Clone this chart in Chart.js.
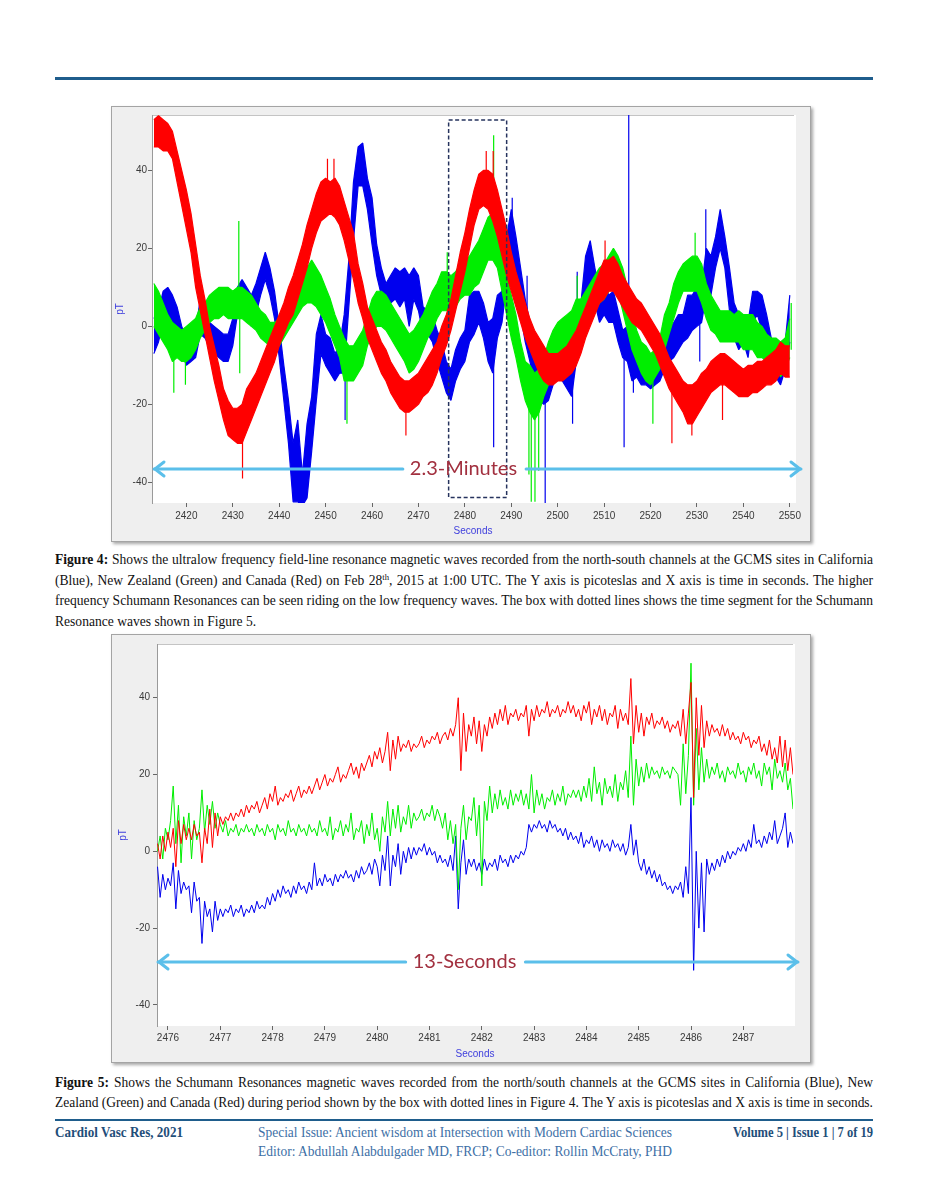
<!DOCTYPE html>
<html>
<head>
<meta charset="utf-8">
<script src="https://cdn.jsdelivr.net/npm/chart.js@4.4.0/dist/chart.umd.min.js"></script>
<style>
    body {
        margin: 0;
        width: 927px;
        height: 1200px;
        position: relative;
        overflow: hidden;
        background: #fff;
        font-family: "Liberation Serif", "Times New Roman", serif;
    }

    .rule {
        position: absolute;
        left: 55px;
        width: 818px;
        background: #1f5d8c;
    }

    .frame {
        position: absolute;
        left: 111px;
        width: 698px;
        background: #efefef;
        border: 1px solid #a4a4a4;
        box-shadow: 2px 2px 3px rgba(0, 0, 0, 0.35);
    }

    .frame canvas {
        position: absolute;
        left: 0;
        top: 0;
    }

    .cap {
        position: absolute;
        left: 55px;
        width: 818px;
        font-size: 14px;
        color: #111;
    }

    .cap .row {
        white-space: nowrap;
    }

    .ln {
        display: inline-block;
        white-space: nowrap;
        transform-origin: 0 50%;
    }

    .cap sup {
        font-size: 9px;
        line-height: 0;
        vertical-align: 5px;
    }

    .foot {
        position: absolute;
        font-size: 14px;
        line-height: 18px;
        white-space: nowrap;
        display: inline-block;
        transform-origin: 0 50%;
    }

    .foot.b {
        font-weight: bold;
        color: #1f4e79;
    }

    .foot.m {
        color: #3d6fa6;
    }
</style>
</head>
<body>

<div class="rule" style="top:77px;height:3px"></div>

<div class="frame" style="top:106px;height:434px">
    <canvas id="fig4" width="698" height="434"></canvas>
</div>

<div class="cap" style="top:552px">
    <div class="row" style="height:20.7px"><span class="ln j"><b>Figure 4:</b> Shows the ultralow frequency field-line resonance magnetic waves recorded from the north-south channels at the GCMS sites in California</span></div>
    <div class="row" style="height:20.7px"><span class="ln j">(Blue), New Zealand (Green) and Canada (Red) on Feb 28<sup>th</sup>, 2015 at 1:00 UTC. The Y axis is picoteslas and X axis is time in seconds. The higher</span></div>
    <div class="row" style="height:20.7px"><span class="ln j">frequency Schumann Resonances can be seen riding on the low frequency waves. The box with dotted lines shows the time segment for the Schumann</span></div>
    <div class="row" style="height:20.7px"><span class="ln">Resonance waves shown in Figure 5.</span></div>
</div>

<div class="frame" style="top:634px;height:427px">
    <canvas id="fig5" width="698" height="427"></canvas>
</div>

<div class="cap" style="top:1075px">
    <div class="row" style="height:19.5px"><span class="ln j"><b>Figure 5:</b> Shows the Schumann Resonances magnetic waves recorded from the north/south channels at the GCMS sites in California (Blue), New</span></div>
    <div class="row" style="height:19.5px"><span class="ln j">Zealand (Green) and Canada (Red) during period shown by the box with dotted lines in Figure 4. The Y axis is picoteslas and X axis is time in seconds.</span></div>
</div>

<div class="rule" style="top:1119px;height:2px"></div>

<div class="foot b" style="left:55px;top:1124px" data-w="128">Cardiol Vasc Res, 2021</div>
<div class="foot m" style="left:258px;top:1124px" data-w="414">Special Issue: Ancient wisdom at Intersection with Modern Cardiac Sciences</div>
<div class="foot m" style="left:258px;top:1143px" data-w="414">Editor: Abdullah Alabdulgader MD, FRCP; Co-editor: Rollin McCraty, PHD</div>
<div class="foot b" style="left:733px;top:1124px" data-w="140">Volume 5 | Issue 1 | 7 of 19</div>

<script>
// ================= figure 4 : noise band per second (low / high edge) + single spikes
const f4Start = 2413;

const f4RedLo = [
    46, 46, 45, 45, 43, 37, 31, 25, 19, 10,
    4, -2, -8, -14, -19, -24, -28, -29, -30, -30,
    -27, -24, -21, -18, -15, -12, -9, -5, -2, 1,
    3, 7, 11, 15, 20, 24, 27, 28, 29, 28,
    26, 22, 17, 12, 6, 2, -3, -6, -9, -12,
    -14, -17, -19, -21, -22, -22, -21, -20, -18, -17,
    -15, -12, -8, -5, -1, 4, 9, 14, 20, 26,
    30, 31, 30, 27, 23, 18, 13, 9, 5, 1,
    -3, -6, -9, -12, -14, -15, -15, -14, -14, -13,
    -12, -10, -7, -3, 0, 3, 6, 7, 9, 9,
    7, 5, 3, 1, 0, -1, -3, -5, -7, -10,
    -13, -16, -18, -20, -22, -25, -25, -23, -21, -19,
    -17, -16, -15, -15, -16, -17, -18, -18, -18, -17,
    -17, -16, -15, -15, -14, -12, -13, -13
];
const f4RedHi = [
    53, 54, 53, 52, 50, 45, 40, 35, 29, 21,
    13, 7, 0, -5, -10, -16, -19, -21, -21, -20,
    -16, -14, -12, -9, -6, -3, 0, 3, 6, 10,
    13, 17, 21, 26, 30, 34, 37, 38, 37, 38,
    36, 32, 28, 24, 16, 11, 5, 2, -1, -4,
    -6, -9, -11, -13, -14, -14, -13, -12, -10, -8,
    -6, -4, 0, 3, 7, 13, 19, 24, 30, 35,
    39, 40, 40, 39, 35, 30, 25, 19, 14, 10,
    6, 2, -1, -3, -5, -7, -7, -7, -6, -5,
    -3, -1, 2, 5, 8, 11, 14, 17, 17, 18,
    16, 13, 11, 9, 7, 6, 4, 2, 0, -2,
    -5, -8, -10, -12, -14, -15, -15, -14, -12, -11,
    -9, -8, -7, -7, -8, -9, -10, -11, -10, -10,
    -9, -9, -8, -7, -6, -4, -5, -5
];
// [seconds, from, to]
const f4RedSpikes = [
    [2432.1, -28, -39], [2450.4, 36, 43], [2451.8, 36, 43], [2467.3, -20, -28],
    [2484.6, 38, 45], [2486.1, 36, 45], [2510.2, 15, 22], [2524.6, -14, -30],
    [2528.9, -22, -28], [2535.5, -14, -24]
];

const f4GreenLo = [
    0, -2, -4, -6, -9, -8, -9, -9, -8, -6,
    -3, -1, 1, 2, 2, 3, 2, 2, 2, 2,
    1, 0, -1, -3, -4, -5, -6, -5, -3, -1,
    1, 3, 5, 6, 6, 5, 3, 1, -2, -5,
    -8, -14, -14, -14, -12, -10, -5, -2, 0, 0,
    -1, -3, -5, -7, -9, -12, -11, -9, -6, -3,
    -1, 2, 4, 4, 4, 5, 7, 8, 8, 10,
    11, 14, 17, 17, 15, 9, 3, -3, -8, -14,
    -19, -22, -24, -22, -18, -15, -11, -8, -7, -6,
    -4, -3, -1, 1, 3, 4, 6, 7, 9, 11,
    9, 4, -1, -6, -9, -12, -14, -15, -13, -11,
    -6, -2, 2, 6, 9, 9, 9, 9, 6, 2,
    -1, -2, -4, -4, -4, -4, -4, -6, -6, -6,
    -8, -8, -9, -10, -10, -13, -11, -8
];
const f4GreenHi = [
    11, 9, 6, 3, 1, 0, -1, 0, 1, 2,
    5, 6, 8, 9, 10, 10, 10, 9, 10, 10,
    9, 8, 6, 4, 3, 1, 1, 2, 4, 6,
    8, 11, 13, 15, 17, 15, 13, 10, 7, 3,
    0, -3, -5, -5, -3, -1, 3, 7, 9, 9,
    8, 6, 4, 2, 0, -2, -1, 1, 3, 6,
    9, 11, 14, 14, 13, 14, 16, 17, 18, 20,
    22, 25, 28, 29, 25, 19, 13, 8, 3, -4,
    -9, -10, -12, -11, -8, -4, -1, 1, 2, 3,
    4, 7, 7, 9, 11, 13, 15, 16, 18, 20,
    18, 15, 10, 4, -1, -4, -5, -7, -6, -3,
    3, 6, 11, 14, 16, 17, 18, 18, 16, 11,
    8, 6, 4, 4, 4, 3, 4, 3, 3, 3,
    1, 0, -2, -3, -3, -4, -3, 2
];
const f4GreenSpikes = [
    [2417.3, -8, -17], [2419.8, -7, -15], [2431.3, 6, 27], [2431.5, 2, -12],
    [2454.6, -12, -25], [2476.2, 12, 19], [2486.2, 25, 49], [2493.8, -18, -38],
    [2494.3, -18, -45], [2495.1, -18, -45], [2495.9, -18, -37], [2504.2, 4, 13],
    [2520.5, -13, -25], [2529.6, 15, 24], [2550.3, -6, 6]
];

const f4BlueLo = [
    -7, -4, 1, 3, 1, -2, -7, -10, -9, -8,
    -2, -3, -5, -7, -8, -9, -9, -5, 3, 5,
    3, 0, 3, 8, 12, 8, 2, -8, -19, -30,
    -45, -45, -46, -44, -32, -19, -7, -10, -12, -14,
    -12, -12, 5, 22, 36, 36, 30, 21, 13, 8,
    4, 6, 7, 5, 7, 0, 7, 4, -2, -2,
    -4, -9, -13, -17, -19, -14, -11, -9, -4, -2,
    1, -3, -9, -12, -3, 1, 11, 19, 11, 3,
    -4, -9, -14, -19, -20, -19, -15, -13, -14, -16,
    -18, -9, -3, 8, 11, 6, 1, 3, 1, 1,
    -4, -8, -9, -14, -13, -15, -15, -16, -15, -14,
    -11, -9, -8, -6, -4, -3, -1, 0, 1, 8,
    8, 15, 20, 15, 4, -3, -6, -4, -8, 1,
    3, -1, -6, -11, -13, -15, -11, -4
];
const f4BlueHi = [
    2, 4, 9, 10, 8, 5, 0, -3, -2, -1,
    7, 4, 1, 0, -1, -2, -2, 2, 10, 12,
    10, 8, 11, 15, 19, 15, 9, 0, -10, -19,
    -30, -24, -38, -25, -18, -2, 3, -2, -3, -7,
    -5, 3, 17, 37, 46, 47, 38, 33, 21, 15,
    11, 13, 15, 14, 15, 13, 15, 13, 5, 4,
    3, -1, -4, -9, -11, -6, -3, -1, 8, 9,
    9, 6, 1, 2, 8, 9, 23, 30, 23, 15,
    7, 1, -4, -9, -12, -11, -7, -6, -6, -6,
    -8, 0, 6, 18, 22, 15, 9, 11, 8, 9,
    4, -1, 0, -4, -6, -8, -8, -9, -9, -8,
    -4, -1, 1, 3, 3, 8, 8, 10, 10, 20,
    18, 23, 30, 23, 15, 6, 3, 3, 1, 9,
    9, 8, 3, -3, -4, -6, -4, 8
];
const f4BlueSpikes = [
    [2454.2, -6, -24], [2486.2, -6, -31], [2490.2, 25, 33], [2493.4, 0, 13],
    [2497.3, -14, -46], [2503.2, -12, -25], [2504.2, -3, 14], [2514.3, -5, -31],
    [2515.3, -3, 55], [2516.3, -8, -17], [2530.6, 2, -9], [2531.9, 12, 30]
];

const f4XTicks = [2420, 2430, 2440, 2450, 2460, 2470, 2480, 2490, 2500, 2510, 2520, 2530, 2540, 2550];
const f4YTicks = [-40, -20, 0, 20, 40];

// segment used for figure 5 and the span arrow
const f4Box = { x0: 2476.5, x1: 2489.0, y0: -43.9, y1: 52.9 };
const f4Span = { y: -36.7, at: 2479.7, text: '2.3-Minutes' };

// ================= figure 5 : one value every 0.05 s from 2475.80
const f5Start = 2475.8;
const f5Step = 0.05;

const f5Red = [
    2, -2, 4, 0, 5, 1, 6, -4, 8, 2, 7, 3, 6, 3, 7, 4, 5, -3, 6, 2,
    11, 1, 10, 4, 9, 7, 9, 8, 10, 8, 10, 9, 11, 9, 12, 10, 12, 11, 13, 10,
    12, 14, 11, 15, 13, 17, 12, 14, 13, 15, 14, 16, 13, 15, 17, 14, 16, 15, 17, 15,
    17, 19, 16, 18, 20, 17, 19, 18, 20, 22, 18, 20, 19, 21, 23, 20, 22, 19, 23, 21,
    23, 25, 22, 26, 24, 27, 23, 26, 31, 21, 29, 24, 30, 26, 28, 27, 29, 26, 28, 27,
    28, 30, 27, 29, 28, 30, 29, 31, 28, 30, 31, 29, 32, 30, 33, 40, 21, 36, 26, 33,
    30, 35, 28, 34, 26, 33, 30, 35, 32, 36, 33, 37, 34, 38, 33, 36, 35, 37, 34, 36,
    35, 38, 30, 37, 34, 38, 35, 37, 36, 39, 35, 37, 36, 38, 35, 37, 36, 39, 36, 38,
    35, 37, 34, 38, 36, 39, 33, 37, 35, 38, 34, 37, 33, 36, 35, 38, 32, 37, 34, 36,
    33, 45, 28, 38, 31, 36, 30, 35, 33, 36, 32, 34, 33, 35, 32, 34, 31, 33, 32, 34,
    30, 37, 28, 36, 44, 14, 40, 25, 38, 27, 34, 30, 33, 31, 32, 30, 33, 30, 32, 29,
    31, 29, 30, 28, 31, 29, 30, 27, 29, 28, 30, 26, 28, 25, 29, 24, 27, 23, 30, 22,
    29, 21, 27, 20
];

const f5Green = [
    0, 4, -2, 6, 3, 8, 17, 2, 12, -3, 9, 4, 10, -2, 8, 3, 6, 16, 5, 12,
    7, 13, 6, 10, 7, 5, 8, 4, 6, 5, 7, 4, 6, 5, 7, 5, 6, 4, 7, 5,
    6, 4, 7, 5, 6, 3, 7, 5, 6, 4, 8, 5, 6, 4, 7, 5, 6, 4, 7, 5,
    6, 4, 8, 5, 6, 4, 9, 3, 6, 5, 8, 4, 7, 5, 10, 3, 6, 5, 8, 2,
    7, 4, 10, 3, 6, 0, 9, 5, 13, 4, 11, 6, 12, 5, 9, 7, 12, 6, 10, 8,
    9, 11, 8, 10, 9, 12, 8, 11, 9, 6, 10, 3, 8, 2, 7, -10, 6, 12, 3, 9,
    8, 14, 4, 12, -9, 13, 8, 17, 10, 15, 11, 16, 12, 14, 11, 16, 12, 15, 13, 16,
    12, 15, 11, 20, 10, 16, 12, 15, 11, 14, 13, 16, 12, 15, 13, 17, 12, 15, 14, 16,
    14, 16, 13, 17, 14, 19, 13, 22, 15, 18, 12, 19, 15, 17, 14, 20, 13, 18, 16, 21,
    14, 30, 12, 24, 17, 22, 18, 23, 19, 22, 20, 21, 19, 22, 20, 21, 19, 22, 21, 20,
    12, 28, 15, 25, 49, 12, 32, 16, 27, 18, 24, 19, 22, 20, 23, 19, 21, 18, 22, 20,
    21, 19, 23, 20, 21, 18, 22, 20, 23, 19, 21, 17, 23, 20, 22, 16, 24, 19, 21, 18,
    23, 16, 19, 11
];

const f5Blue = [
    -4, -12, -6, -10, -7, -9, -3, -15, -5, -11, -8, -10, -9, -16, -8, -13, -12, -24, -13, -17,
    -15, -21, -13, -18, -15, -17, -15, -16, -14, -17, -15, -16, -14, -17, -15, -16, -14, -16, -13, -15,
    -14, -15, -12, -14, -11, -13, -10, -12, -9, -11, -10, -12, -9, -11, -8, -10, -9, -11, -8, -10,
    -3, -9, -7, -9, -6, -8, -7, -9, -6, -8, -6, -7, -5, -7, -6, -8, -5, -7, -4, -6,
    -5, -3, -6, -2, -4, -9, -1, -5, 4, -9, -1, -4, 2, -6, 0, -3, 1, -2, 1, -1,
    1, 0, 2, -1, 1, -1, 0, -3, -1, -3, -2, -4, -1, -5, 4, -15, -3, 3, -6, -2,
    -4, -2, -5, -3, -6, -2, -5, -3, -4, -2, -5, -1, -3, -2, -4, -1, -3, -1, -2, 0,
    -1, 1, 7, 5, 7, 6, 8, 6, 7, 5, 8, 6, 7, 5, 6, 4, 6, 3, 5, 3,
    4, 2, 5, 1, 3, 2, 4, 1, 3, 0, 3, 1, 2, 0, 3, 1, 2, 0, 2, -1,
    1, 7, -1, 3, -3, -5, -2, -6, -4, -7, -5, -8, -6, -9, -8, -10, -9, -11, -9, -10,
    -8, -12, -4, -11, 14, -31, 0, -20, -3, -21, -2, -6, -3, -5, -2, -4, -1, -3, 0, -2,
    0, -1, 1, 0, 2, 0, 3, 1, 7, 2, 3, 1, 4, 2, 5, 3, 8, 2, 4, 6,
    10, 1, 5, 2
];

const f5XTicks = [2476, 2477, 2478, 2479, 2480, 2481, 2482, 2483, 2484, 2485, 2486, 2487];
const f5YTicks = [-40, -20, 0, 20, 40];

const f5Span = { y: -28.9, at: 2481.67, text: '13-Seconds' };

// warna seri
const RED = '#ff0000';
const GREEN = '#00ee00';
const BLUE = '#0000ee';


function series(data, color, width) {
    return {
        data: data,
        borderColor: color,
        borderWidth: width,
        pointRadius: 0,
        fill: false,
        tension: 0,
        spanGaps: false,
        borderJoinStyle: 'bevel'
    };
}

// band (low edge, high edge filled between) and the spikes of one station
function bandSets(start, lo, hi, spikes, color) {

    const loPts = lo.map((v, i) => ({ x: start + i, y: v }));
    const hiPts = hi.map((v, i) => ({ x: start + i, y: v }));

    const spikePts = [];
    spikes.forEach(s => {
        spikePts.push({ x: s[0], y: s[1] }, { x: s[0], y: s[2] }, { x: s[0], y: null });
    });

    const hiSet = series(hiPts, color, 1.2);
    hiSet.fill = '-1';
    hiSet.backgroundColor = color;

    return [series(loPts, color, 1.2), hiSet, series(spikePts, color, 1.2)];
}

function samplePoints(start, step, values) {
    return values.map((v, i) => ({ x: start + i * step, y: v }));
}


function drawArrow(ctx, x1, x2, y, gapL, gapR) {

    ctx.save();
    ctx.strokeStyle = '#5bbfea';
    ctx.lineWidth = 3;
    ctx.lineCap = 'round';
    ctx.lineJoin = 'round';

    ctx.beginPath();
    ctx.moveTo(x1, y);
    ctx.lineTo(gapL, y);
    ctx.moveTo(gapR, y);
    ctx.lineTo(x2, y);
    ctx.stroke();

    ctx.beginPath();
    ctx.moveTo(x1 + 10, y - 7);
    ctx.lineTo(x1 + 1, y);
    ctx.lineTo(x1 + 10, y + 7);
    ctx.moveTo(x2 - 10, y - 7);
    ctx.lineTo(x2 - 1, y);
    ctx.lineTo(x2 - 10, y + 7);
    ctx.stroke();
    ctx.restore();
}


const overlay = {

    id: 'overlay',

    beforeDraw(chart) {
        const { ctx, chartArea: a } = chart;
        ctx.save();
        ctx.fillStyle = '#ffffff';
        ctx.fillRect(a.left, a.top, a.right - a.left + 2, a.bottom - a.top);
        ctx.strokeStyle = '#c4c4c4';
        ctx.lineWidth = 1;
        ctx.beginPath();
        ctx.moveTo(a.left, a.top + 0.5);
        ctx.lineTo(a.right, a.top + 0.5);
        ctx.stroke();
        ctx.restore();
    },

    afterDatasetsDraw(chart, args, opts) {

        const { ctx, chartArea: a } = chart;
        const sx = chart.scales.x;
        const sy = chart.scales.y;

        // dotted box
        if (opts.box) {
            const b = opts.box;
            const x0 = sx.getPixelForValue(b.x0);
            const x1 = sx.getPixelForValue(b.x1);
            const y0 = sy.getPixelForValue(b.y1);
            const y1 = sy.getPixelForValue(b.y0);
            ctx.save();
            ctx.strokeStyle = '#26335e';
            ctx.lineWidth = 1.5;
            ctx.setLineDash([4, 2.5]);
            ctx.strokeRect(x0, y0, x1 - x0, y1 - y0);
            ctx.restore();
        }

        // span arrow + label
        const s = opts.span;
        const ay = Math.round(sy.getPixelForValue(s.y));
        const cx = sx.getPixelForValue(s.at);

        ctx.save();
        ctx.font = opts.spanFont;
        const tw = ctx.measureText(s.text).width;
        ctx.restore();

        drawArrow(ctx, a.left + opts.arrowL, a.right + opts.arrowR, ay, cx - tw / 2 - 7, cx + tw / 2 + 9);

        ctx.save();
        ctx.font = opts.spanFont;
        ctx.fillStyle = '#a2303f';
        ctx.textAlign = 'center';
        ctx.textBaseline = 'middle';
        ctx.fillText(s.text, cx, ay);
        ctx.restore();

        // axis titles
        ctx.save();
        ctx.font = '10px "Liberation Sans", Arial, sans-serif';
        ctx.fillStyle = '#4040dd';
        ctx.textAlign = 'center';
        ctx.textBaseline = 'middle';
        ctx.fillText('Seconds', (a.left + a.right) / 2, opts.secondsY);
        ctx.translate(opts.pTX, (a.top + a.bottom) / 2);
        ctx.rotate(-Math.PI / 2);
        ctx.fillText('pT', 0, 0);
        ctx.restore();
    }
};


function buildChart(id, cfg) {

    const tickFont = { family: '"Liberation Sans", Arial, sans-serif', size: 10 };

    return new Chart(document.getElementById(id), {

        type: 'line',

        data: { datasets: cfg.datasets },

        options: {
            responsive: false,
            animation: false,
            events: [],

            layout: { padding: cfg.padding },

            plugins: {
                legend: { display: false },
                tooltip: { enabled: false },
                overlay: cfg.overlay
            },

            scales: {

                x: {
                    type: 'linear',
                    min: cfg.xRange[0],
                    max: cfg.xRange[1],
                    afterFit: s => { s.height = cfg.xHeight; },
                    afterBuildTicks: s => { s.ticks = cfg.xTicks.map(v => ({ value: v })); },
                    ticks: {
                        autoSkip: false,
                        maxRotation: 0,
                        padding: cfg.xPad,
                        color: '#3a3a3a',
                        font: tickFont,
                        callback: v => String(v)
                    },
                    grid: {
                        drawOnChartArea: false,
                        tickLength: 4,
                        color: '#666'
                    },
                    border: { display: false }
                },

                y: {
                    type: 'linear',
                    min: cfg.yRange[0],
                    max: cfg.yRange[1],
                    afterFit: s => { s.width = cfg.yWidth; },
                    afterBuildTicks: s => { s.ticks = cfg.yTicks.map(v => ({ value: v })); },
                    ticks: {
                        autoSkip: false,
                        padding: cfg.yPad,
                        color: '#3a3a3a',
                        font: tickFont,
                        callback: v => String(v)
                    },
                    grid: {
                        drawOnChartArea: false,
                        tickLength: 4,
                        color: '#666'
                    },
                    border: { display: true, color: '#9a9a9a' }
                }
            }
        },

        plugins: [overlay]
    });
}


const fig4Chart = buildChart('fig4', {
    datasets: [
        ...bandSets(f4Start, f4RedLo, f4RedHi, f4RedSpikes, RED),
        ...bandSets(f4Start, f4GreenLo, f4GreenHi, f4GreenSpikes, GREEN),
        ...bandSets(f4Start, f4BlueLo, f4BlueHi, f4BlueSpikes, BLUE)
    ],
    padding: { left: 0, top: 8, right: 16, bottom: 0 },
    xRange: [2412.6, 2550.9],
    yRange: [-45.3, 54.2],
    xTicks: f4XTicks,
    yTicks: f4YTicks,
    xHeight: 38,
    yWidth: 40,
    xPad: 3,
    yPad: 1,
    overlay: {
        box: f4Box,
        span: f4Span,
        spanFont: '20px Lato, "Open Sans", sans-serif',
        arrowL: 2,
        arrowR: 7,
        secondsY: 424,
        pTX: 8.5
    }
});

const fig5Chart = buildChart('fig5', {
    datasets: [
        series(samplePoints(f5Start, f5Step, f5Red), RED, 1),
        series(samplePoints(f5Start, f5Step, f5Green), GREEN, 1),
        series(samplePoints(f5Start, f5Step, f5Blue), BLUE, 1)
    ],
    padding: { left: 0, top: 7, right: 17, bottom: 0 },
    xRange: [2475.79, 2487.95],
    yRange: [-45.5, 54],
    xTicks: f5XTicks,
    yTicks: f5YTicks,
    xHeight: 36,
    yWidth: 45,
    xPad: 2,
    yPad: 3,
    overlay: {
        box: null,
        span: f5Span,
        spanFont: '20px Lato, "Open Sans", sans-serif',
        arrowL: 1,
        arrowR: 5,
        secondsY: 419,
        pTX: 11
    }
});


// captions: squeeze to the column and spread the words of justified lines
document.querySelectorAll('.cap').forEach(cap => {

    const width = 818;
    const lines = Array.from(cap.querySelectorAll('.ln'));
    const natural = lines.map(l => l.getBoundingClientRect().width);

    let k = 1;
    lines.forEach((l, i) => {
        if (l.classList.contains('j')) k = Math.min(k, width / natural[i]);
    });

    lines.forEach((l, i) => {
        l.style.transform = `scaleX(${k})`;
        if (l.classList.contains('j')) {
            const spaces = (l.textContent.match(/ /g) || []).length;
            const extra = (width / k - natural[i]) / spaces;
            l.style.wordSpacing = extra + 'px';
        }
    });
});

// footer pieces fit their measured width
document.querySelectorAll('.foot').forEach(el => {
    const w = +el.dataset.w;
    const nat = el.getBoundingClientRect().width;
    el.style.transform = `scaleX(${w / nat})`;
});
</script>
</body>
</html>
